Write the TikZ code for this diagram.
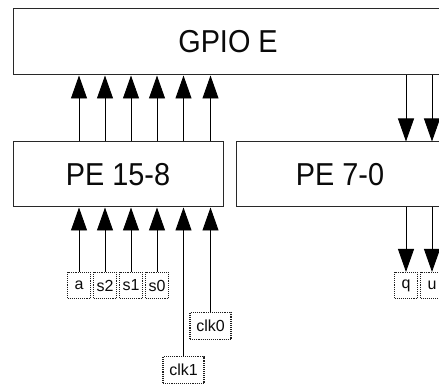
\documentclass[tikz,border=0pt]{standalone}
\usepackage{fontspec}
\setmainfont{Liberation Sans}
\usepackage{graphicx}
\usepackage{xcolor}
\definecolor{boxline}{RGB}{40,40,40}
\definecolor{dotline}{RGB}{30,30,30}
\definecolor{txtblack}{RGB}{10,10,10}
\usetikzlibrary{arrows.meta, positioning}
\newcommand{\narrowtext}[1]{\scalebox{0.91}[1]{#1}}

\begin{document}
\begin{tikzpicture}[x=1pt, y=1pt,
  blockbox/.style={draw=boxline, line width=1pt, fill=white, inner sep=0pt,
    text=txtblack, font=\fontsize{31.7}{36}\selectfont},
  sigbox/.style={draw=dotline, line width=1.1pt, dash pattern=on 1.1pt off 1pt,
    inner sep=0pt, minimum height=26pt, text=txtblack,
    font=\fontsize{16}{18}\selectfont},
  pinbox/.style={sigbox, minimum width=23pt},
  clkbox/.style={sigbox, minimum width=41pt, minimum height=27pt},
  pin/.style={draw=black, line width=0.9pt, -{Triangle[length=23pt, width=16pt]}}]
  \clip (0,0) rectangle (439,383);

  % Port blocks
  \node[blockbox, minimum width=430pt, minimum height=66pt] (gpio) at (228,341) {\narrowtext{GPIO E}};
  \node[blockbox, minimum width=210pt, minimum height=65pt] (pehi) at (118,208.5) {\narrowtext{PE 15-8}};
  \node[blockbox, minimum width=208pt, minimum height=65pt] (pelo) at (340,208.5) {\narrowtext{PE 7-0}};

  % Input signals
  \node[pinbox] (sa) at (79,97.5) {a};
  \node[pinbox] (ssel2) at (105,97.5) {s2};
  \node[pinbox] (ssel1) at (131,97.5) {s1};
  \node[pinbox] (ssel0) at (157,97.5) {s0};
  \node[clkbox] (sclk1) at (183.5,13) {clk1};
  \node[clkbox] (sclk0) at (210.5,57) {clk0};

  % Output signals
  \node[pinbox] (sq) at (406,97.5) {q};
  \node[pinbox] (su) at (432,97.5) {u};

  % Inputs into PE 15-8
  \draw[pin] (sa.north) -- (sa |- pehi.south);
  \draw[pin] (ssel2.north) -- (ssel2 |- pehi.south);
  \draw[pin] (ssel1.north) -- (ssel1 |- pehi.south);
  \draw[pin] (ssel0.north) -- (ssel0 |- pehi.south);
  \draw[pin] (sclk1.north) -- (sclk1 |- pehi.south);
  \draw[pin] (sclk0.north) -- (sclk0 |- pehi.south);

  % PE 15-8 up to GPIO E
  \draw[pin] (sa |- pehi.north) -- (sa |- gpio.south);
  \draw[pin] (ssel2 |- pehi.north) -- (ssel2 |- gpio.south);
  \draw[pin] (ssel1 |- pehi.north) -- (ssel1 |- gpio.south);
  \draw[pin] (ssel0 |- pehi.north) -- (ssel0 |- gpio.south);
  \draw[pin] (sclk1 |- pehi.north) -- (sclk1 |- gpio.south);
  \draw[pin] (sclk0 |- pehi.north) -- (sclk0 |- gpio.south);

  % GPIO E down to PE 7-0, then out
  \draw[pin] (sq |- gpio.south) -- (sq |- pelo.north);
  \draw[pin] (su |- gpio.south) -- (su |- pelo.north);
  \draw[pin] (sq |- pelo.south) -- (sq.north);
  \draw[pin] (su |- pelo.south) -- (su.north);
\end{tikzpicture}
\end{document}
